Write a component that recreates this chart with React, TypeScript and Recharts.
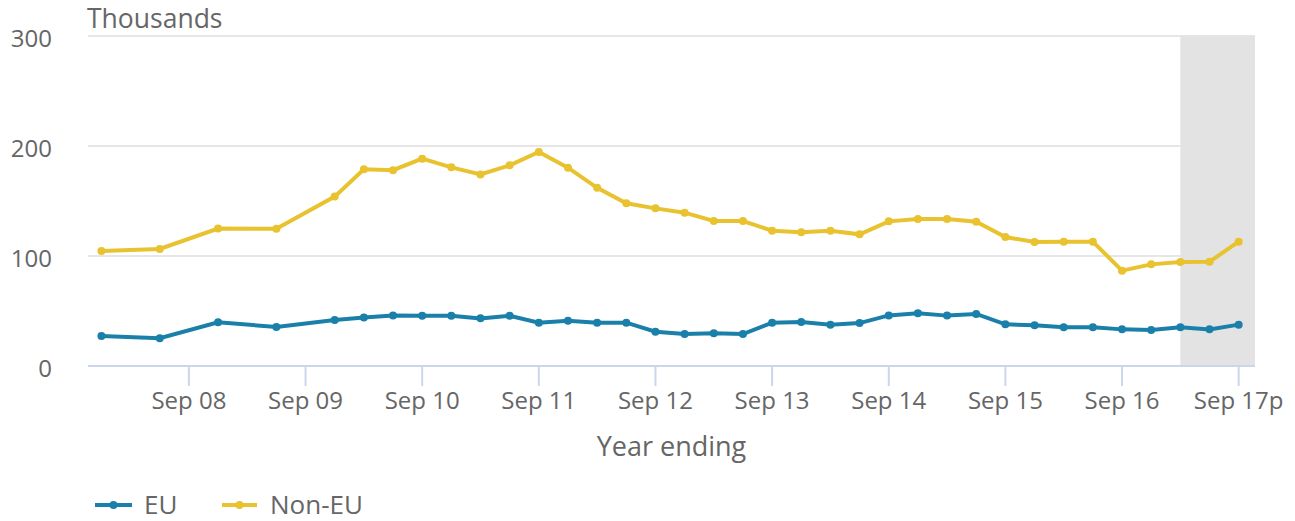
import { LineChart, Line, XAxis, YAxis, CartesianGrid, ReferenceArea } from "recharts"

// year ending periods (semi-annual to Dec 09, quarterly after)
const periods = [
  "Dec 07", "Jun 08", "Dec 08", "Jun 09", "Dec 09",
  "Mar 10", "Jun 10", "Sep 10", "Dec 10",
  "Mar 11", "Jun 11", "Sep 11", "Dec 11",
  "Mar 12", "Jun 12", "Sep 12", "Dec 12",
  "Mar 13", "Jun 13", "Sep 13", "Dec 13",
  "Mar 14", "Jun 14", "Sep 14", "Dec 14",
  "Mar 15", "Jun 15", "Sep 15", "Dec 15",
  "Mar 16", "Jun 16", "Sep 16", "Dec 16",
  "Mar 17", "Jun 17", "Sep 17",
]

const euValues = [
  27.3, 25.2, 39.7, 35.5, 41.8,
  44, 45.8, 45.7, 45.7,
  43.3, 45.7, 39.4, 41.2,
  39.4, 39.4, 31.2, 29.1,
  29.7, 29.1, 39.4, 40,
  37.6, 39, 46, 47.9,
  45.8, 47.3, 37.9, 37,
  35.2, 35.2, 33.3, 32.7,
  35.2, 33.3, 37.6,
]

const nonEuValues = [
  104.5, 106.4, 125, 124.8, 154,
  178.8, 178, 188.5, 180.6,
  174.2, 182.4, 194.5, 180.3,
  162, 147.9, 143.3, 139.4,
  131.8, 131.8, 123, 121.5,
  123, 119.7, 131.5, 133.6,
  133.6, 131.2, 117.3, 112.7,
  113, 113, 86.7, 92.4,
  94.5, 94.8, 113,
]

const tickLabels = [
  "Sep 08", "Sep 09", "Sep 10", "Sep 11", "Sep 12",
  "Sep 13", "Sep 14", "Sep 15", "Sep 16", "Sep 17p",
]

const yTicks = [0, 100, 200, 300]

const MONTHS: Record<string, number> = { Mar: 0, Jun: 1, Sep: 2, Dec: 3 }

// quarters counted from Sep 08
const toQuarter = (label: string) => {
  const [mon, yy] = label.split(" ")
  return (parseInt(yy, 10) - 8) * 4 + MONTHS[mon] - 2
}

const data = periods.map((p, i) => ({
  period: p,
  q: toQuarter(p),
  eu: euValues[i],
  nonEu: nonEuValues[i],
}))

const xTicks = tickLabels.map((_, i) => i * 4)

const BLUE = "#1a80aa"
const YELLOW = "#e8c22f"
const TEXT = "#666666"
const FONT = "'Open Sans', sans-serif"

const X_MIN = -3.46
const X_MAX = 36.56

export default function App() {
  return (
    <div style={{ position: "relative", width: 1279, height: 513, fontFamily: FONT }}>
      <LineChart
        width={1279}
        height={513}
        data={data}
        margin={{ top: 28, right: 32, left: 0, bottom: 0 }}
      >
        <ReferenceArea x1={34} x2={X_MAX} fill="#e3e3e3" fillOpacity={1} stroke="none" ifOverflow="hidden" />
        <CartesianGrid vertical={false} stroke="#e6e6e6" strokeWidth={2} />
        <XAxis
          dataKey="q"
          type="number"
          domain={[X_MIN, X_MAX]}
          ticks={xTicks}
          allowDataOverflow
          tickFormatter={(v: number) => tickLabels[v / 4]}
          axisLine={{ stroke: "#ccd6eb", strokeWidth: 2 }}
          tickLine={{ stroke: "#ccd6eb", strokeWidth: 2 }}
          tickSize={20}
          tickMargin={6}
          height={155}
          tick={{ fill: TEXT, fontSize: 24, fontFamily: FONT }}
          label={{
            value: "Year ending",
            position: "insideBottom",
            offset: 65,
            fill: TEXT,
            fontSize: 27,
            fontFamily: FONT,
          }}
        />
        <YAxis
          domain={[0, 300]}
          ticks={yTicks}
          width={80}
          axisLine={false}
          tickLine={false}
          tickSize={0}
          tickMargin={36}
          tick={{ fill: TEXT, fontSize: 24, fontFamily: FONT, dy: 2 }}
        />
        <Line
          dataKey="eu"
          name="EU"
          stroke={BLUE}
          strokeWidth={4}
          dot={{ r: 4, fill: BLUE, stroke: "none" }}
          isAnimationActive={false}
        />
        <Line
          dataKey="nonEu"
          name="Non-EU"
          stroke={YELLOW}
          strokeWidth={4}
          dot={{ r: 4, fill: YELLOW, stroke: "none" }}
          isAnimationActive={false}
        />
      </LineChart>
      <svg
        width={1279}
        height={513}
        style={{ position: "absolute", left: 0, top: 0, pointerEvents: "none", overflow: "visible" }}
      >
        <text x={79} y={20} fill={TEXT} fontSize={26.5} fontFamily={FONT}>
          Thousands
        </text>
        <line x1={87} x2={124} y1={497} y2={497} stroke={BLUE} strokeWidth={4} />
        <circle cx={105.5} cy={497} r={4} fill={BLUE} />
        <text x={136} y={506} fill={TEXT} fontSize={26} fontFamily={FONT}>
          EU
        </text>
        <line x1={214} x2={249} y1={497} y2={497} stroke={YELLOW} strokeWidth={4} />
        <circle cx={231.5} cy={497} r={4} fill={YELLOW} />
        <text x={262} y={506} fill={TEXT} fontSize={26} fontFamily={FONT}>
          Non-EU
        </text>
      </svg>
    </div>
  )
}
